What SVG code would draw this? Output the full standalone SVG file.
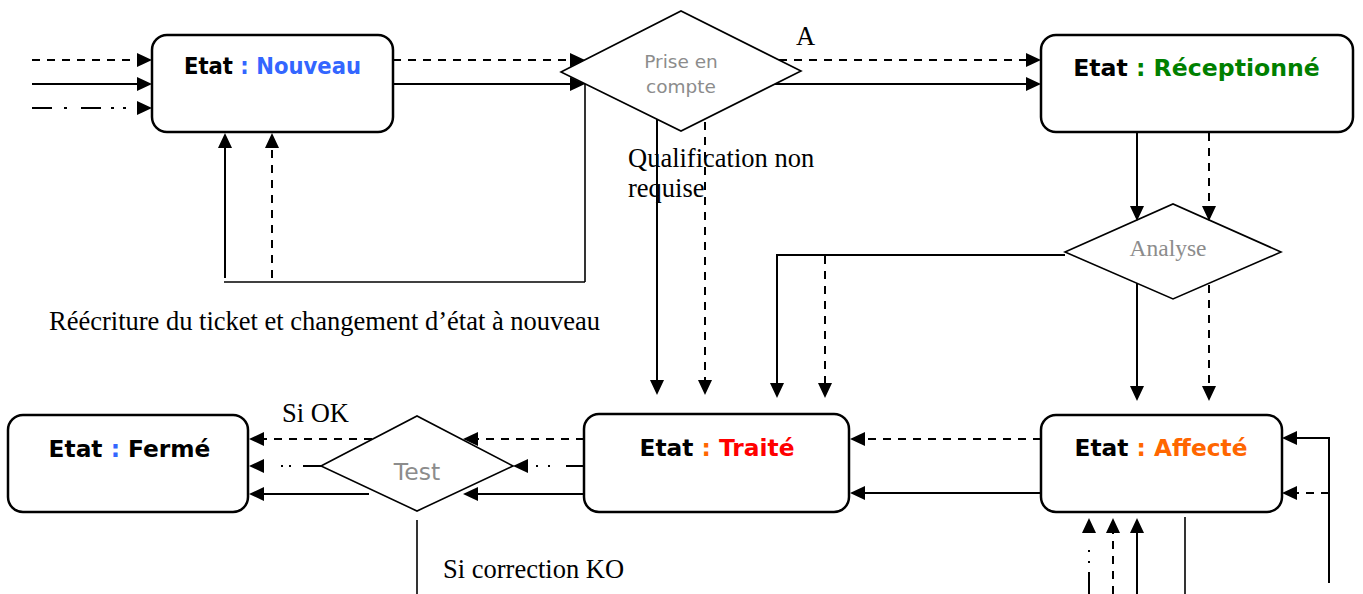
<svg xmlns="http://www.w3.org/2000/svg" width="1363" height="594" viewBox="0 0 1363 594">
<style>
.box{fill:#fff;stroke:#000;stroke-width:2.5}
.dia{fill:#fff;stroke:#000;stroke-width:1.6}
.st{font-family:"DejaVu Sans",Verdana,sans-serif;font-weight:bold;text-anchor:middle}
.k{fill:#000}
.g{font-family:"DejaVu Sans",Verdana,sans-serif;fill:#8c8c8c;text-anchor:middle}
.gs{font-family:"Liberation Serif","Times New Roman",serif;fill:#8c8c8c;text-anchor:middle}
.lbl{font-family:"Liberation Serif","Times New Roman",serif;fill:#000;font-size:26.5px}
.c{fill:none;stroke:#000;stroke-width:2}
.a{marker-end:url(#ah)}
.d{stroke-dasharray:8 7}
.thin{stroke-width:1.6}
</style>
<defs>
<marker id="ah" viewBox="0 -7 15 14" markerWidth="15" markerHeight="14" refX="0" refY="0" orient="auto" markerUnits="userSpaceOnUse">
<path d="M0,-7 L15,0 L0,7 Z" fill="#000"/>
</marker>
</defs>

<g id="node-nouveau">
<rect class="box" x="152" y="35" width="241" height="97" rx="15"/>
<text class="st" x="272.5" y="74" font-size="23" textLength="177" lengthAdjust="spacingAndGlyphs"><tspan class="k">Etat</tspan><tspan fill="#3366FF"> : Nouveau</tspan></text>
</g>
<g id="node-prise">
<polygon class="dia" points="561,72 681,11 801,71 681,131"/>
<text class="g" x="681" y="68" font-size="18.5">Prise en</text>
<text class="g" x="681" y="93" font-size="18.5">compte</text>
</g>
<g id="node-receptionne">
<rect class="box" x="1041" y="35" width="312" height="97" rx="15"/>
<text class="st" x="1196.5" y="76" font-size="23.6"><tspan class="k">Etat</tspan><tspan fill="#008000"> : Réceptionné</tspan></text>
</g>
<g id="node-analyse">
<polygon class="dia" points="1065,252 1173,204 1281,252 1173,299"/>
<text class="gs" x="1168" y="256" font-size="23.5">Analyse</text>
</g>
<g id="node-traite">
<rect class="box" x="584" y="414" width="265" height="98" rx="15"/>
<text class="st" x="717" y="456" font-size="23.3"><tspan class="k">Etat</tspan><tspan fill="#FF6600"> : </tspan><tspan fill="#FF0000">Traité</tspan></text>
</g>
<g id="node-affecte">
<rect class="box" x="1041" y="415" width="241" height="97" rx="15"/>
<text class="st" x="1161" y="456" font-size="23.3"><tspan class="k">Etat</tspan><tspan fill="#FF6600"> : Affecté</tspan></text>
</g>
<g id="node-test">
<polygon class="dia" points="321,466 417,416 513,466 417,511"/>
<text class="g" x="417" y="480" font-size="23.5">Test</text>
</g>
<g id="node-ferme">
<rect class="box" x="8" y="415" width="240" height="97" rx="15"/>
<text class="st" x="129.5" y="457" font-size="23.3"><tspan class="k">Etat</tspan><tspan fill="#3366FF"> : </tspan><tspan class="k">Fermé</tspan></text>
</g>

<g id="labels">
<text class="lbl" x="796" y="45" font-size="25">A</text>
<text class="lbl" x="628" y="167">Qualification non</text>
<text class="lbl" x="628" y="197">requise</text>
<text class="lbl" x="49" y="330">Réécriture du ticket et changement d’état à nouveau</text>
<text class="lbl" x="282" y="422">Si OK</text>
<text class="lbl" x="443" y="578">Si correction KO</text>
</g>

<g id="connectors">
<line class="c a d" x1="32" y1="60" x2="137" y2="60"/>
<line class="c a" x1="32" y1="84" x2="137" y2="84"/>
<line class="c a" x1="32" y1="108" x2="137" y2="108" stroke-dasharray="20 12 3 14 20 10 3 9 3 11"/>
<line class="c a d" x1="393" y1="60" x2="570" y2="60"/>
<line class="c a" x1="393" y1="84" x2="570" y2="84"/>
<line class="c a d" x1="779" y1="60" x2="1026" y2="60"/>
<line class="c a" x1="775" y1="84" x2="1026" y2="84"/>
<line class="c thin" x1="585" y1="84" x2="585" y2="282"/>
<line class="c thin" x1="224" y1="282" x2="585" y2="282"/>
<line class="c a" x1="225" y1="278" x2="225" y2="148"/>
<line class="c a d" x1="272" y1="278" x2="272" y2="148"/>
<line class="c a" x1="657" y1="119" x2="657" y2="380"/>
<line class="c a d" x1="705" y1="122" x2="705" y2="380"/>
<line class="c a" x1="1137" y1="132" x2="1137" y2="206"/>
<line class="c a d" x1="1209" y1="133" x2="1209" y2="206"/>
<polyline class="c a" points="1065,255 777,255 777,383"/>
<line class="c a d" x1="825" y1="256" x2="825" y2="383"/>
<line class="c a" x1="1137" y1="283" x2="1137" y2="386"/>
<line class="c a d" x1="1209" y1="285" x2="1209" y2="386"/>
<line class="c a d" x1="1041" y1="439" x2="865" y2="439"/>
<line class="c a" x1="1041" y1="493" x2="865" y2="493"/>
<polyline class="c a" points="1329,583 1329,438 1297,438"/>
<line class="c a d" x1="1329" y1="493" x2="1297" y2="493"/>
<line class="c a" x1="1089" y1="594" x2="1089" y2="533" stroke-dasharray="22 9 2 9 2 17"/>
<line class="c a d" x1="1113" y1="594" x2="1113" y2="533"/>
<line class="c a" x1="1137" y1="594" x2="1137" y2="533"/>
<line class="c thin" x1="1185" y1="517" x2="1185" y2="594"/>
<line class="c a d" x1="584" y1="439" x2="478" y2="439"/>
<line class="c a" x1="584" y1="466" x2="528" y2="466" stroke-dasharray="18 16 2 10 2 8"/>
<line class="c a" x1="584" y1="494" x2="478" y2="494"/>
<line class="c a d" x1="372" y1="439" x2="264" y2="439"/>
<line class="c a" x1="321" y1="466" x2="264" y2="466" stroke-dasharray="18 12 2 6 2 17"/>
<line class="c a" x1="369" y1="494" x2="264" y2="494"/>
<line class="c thin" x1="417" y1="520" x2="417" y2="594"/>
</g>
</svg>
